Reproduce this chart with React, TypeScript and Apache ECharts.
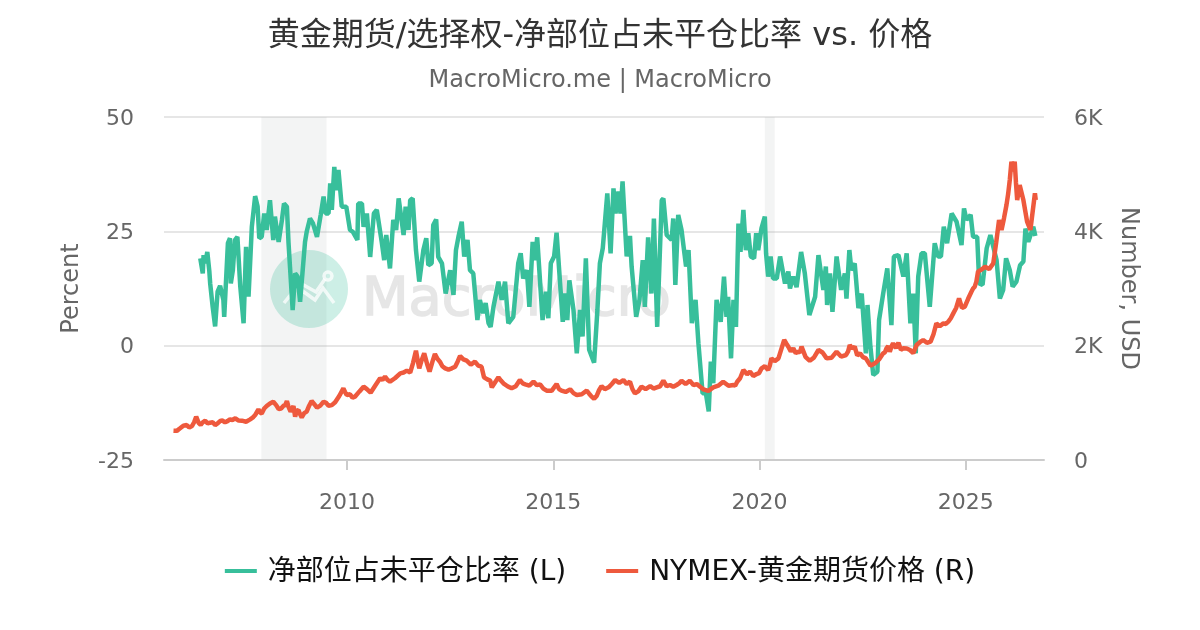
import React, { useEffect, useRef } from "react";
import * as echarts from "echarts";

const FONT = "'DejaVu Sans','Noto Sans CJK SC',sans-serif";
const TITLE = "黄金期货/选择权-净部位占未平仓比率 vs. 价格";
const SUBTITLE = "MacroMicro.me | MacroMicro";
const LEFT_NAME = "净部位占未平仓比率 (L)";
const RIGHT_NAME = "NYMEX-黄金期货价格 (R)";
const X_TICKS = [2010, 2015, 2020, 2025];
const RECESSIONS = [[2007.92, 2009.5], [2020.13, 2020.37]];

const netYears = [
  2006.44,2006.50,2006.52,2006.56,2006.61,2006.66,2006.68,2006.74,2006.80,2006.86,2006.92,2007.00,2007.02,2007.11,2007.16,2007.18,2007.23,2007.28,2007.34,2007.41,2007.49,2007.55,2007.61,2007.69,2007.77,2007.83,2007.87,2007.93,2007.99,2008.05,2008.13,2008.21,2008.25,2008.34,2008.42,2008.47,2008.54,2008.58,2008.63,2008.68,2008.74,2008.80,2008.86,2008.98,2009.02,2009.10,2009.17,2009.27,2009.36,2009.43,2009.48,2009.55,2009.59,2009.63,2009.69,2009.73,2009.79,2009.87,2009.98,
  2010.07,2010.14,2010.25,2010.27,2010.36,2010.40,2010.48,2010.56,2010.65,2010.72,2010.84,2010.90,2010.95,2011.04,2011.12,2011.19,2011.25,2011.30,2011.37,2011.42,2011.49,2011.53,2011.59,2011.67,2011.75,2011.85,2011.92,2011.97,2012.05,2012.09,2012.16,2012.21,2012.30,2012.39,2012.50,2012.58,2012.64,2012.70,2012.78,2012.84,2012.92,2012.98,
  2013.06,2013.16,2013.22,2013.30,2013.36,2013.43,2013.48,2013.55,2013.67,2013.75,2013.83,2013.91,2014.03,2014.15,2014.21,2014.27,2014.36,2014.42,2014.50,2014.56,2014.61,2014.74,2014.82,2014.88,2014.94,2015.02,2015.08,2015.23,2015.29,2015.34,2015.39,2015.49,2015.57,2015.65,2015.71,2015.79,2015.87,2015.99,
  2016.07,2016.13,2016.20,2016.25,2016.31,2016.39,2016.46,2016.51,2016.58,2016.63,2016.68,2016.78,2016.86,2016.90,2017.01,2017.09,2017.17,2017.22,2017.30,2017.38,2017.44,2017.52,2017.63,2017.67,2017.75,2017.87,2017.91,2017.96,2018.03,2018.11,2018.22,2018.28,2018.36,2018.45,2018.52,2018.62,2018.70,2018.77,2018.82,2018.88,2018.96,2019.06,2019.14,2019.20,2019.24,2019.31,2019.37,2019.43,2019.49,2019.54,2019.61,2019.67,2019.73,2019.79,2019.87,2019.92,2019.97,
  2020.05,2020.13,2020.16,2020.21,2020.27,2020.33,2020.42,2020.50,2020.62,2020.70,2020.74,2020.82,2020.90,2021.01,2021.10,2021.21,2021.35,2021.43,2021.55,2021.61,2021.64,2021.71,2021.77,2021.87,2021.98,2022.07,2022.11,2022.18,2022.23,2022.31,2022.40,2022.48,2022.58,2022.62,2022.69,2022.76,2022.86,2022.90,
  2023.00,2023.10,2023.20,2023.26,2023.37,2023.49,2023.57,2023.66,2023.73,2023.79,2023.85,2023.93,2024.01,2024.13,2024.25,2024.33,2024.40,2024.47,2024.55,2024.66,2024.78,2024.90,2024.96,2025.02,2025.12,2025.18,2025.28,2025.33,2025.41,2025.51,2025.60,2025.75,2025.83,2025.91,2025.98,2026.07,2026.14,2026.23,2026.32,2026.40,2026.45,2026.52,2026.64,2026.69,
];
const netValues = [
  19.1,15.8,19.8,18.0,20.5,16.2,13.6,8.5,4.2,11.8,13.1,10.0,6.3,22.4,23.5,13.6,16.5,23.1,23.8,12.9,4.9,21.6,10.7,26.0,32.7,30.4,23.5,23.8,28.9,25.3,31.8,23.1,28.2,22.7,27.5,31.1,30.4,22.4,15.1,7.8,15.8,15.1,9.6,22.7,24.9,27.8,26.8,23.8,28.6,32.6,28.9,28.9,35.5,29.7,39.1,34.0,38.4,30.4,30.4,
  25.3,24.9,23.1,31.1,31.1,26.0,28.9,19.4,28.9,29.7,22.7,18.7,24.2,16.9,27.5,25.3,32.2,28.9,24.2,30.4,25.3,31.8,32.2,20.9,14.0,20.9,23.5,17.6,18.0,26.4,27.6,19.4,18.0,11.4,16.5,11.1,20.9,23.8,27.1,19.5,23.1,16.5,
  15.8,5.6,10.0,7.1,9.3,4.9,4.1,8.5,14.0,10.0,14.0,4.9,6.3,18.0,20.2,14.7,16.5,8.5,22.7,18.7,23.7,5.6,11.8,6.0,18.0,19.5,24.7,5.2,11.4,5.6,14.3,7.8,-1.7,7.8,2.0,19.1,-0.9,-3.7,
  7.8,18.0,21.3,26.7,33.3,20.2,34.4,28.9,33.7,28.9,35.9,19.5,24.0,17.3,6.3,10.0,18.7,8.5,23.7,11.4,27.8,4.1,31.8,32.2,24.2,23.1,27.8,13.3,28.6,25.3,17.3,20.9,4.9,10.0,0.5,-10.4,-10.4,-14.4,-3.5,-8.2,10.0,5.2,15.1,6.3,10.7,-2.8,10.0,4.1,26.7,20.5,29.7,20.9,24.6,19.5,19.1,24.6,20.9,
  25.7,28.2,20.2,15.1,19.5,14.7,14.7,19.5,13.6,16.2,12.5,15.1,12.8,20.5,15.8,6.7,10.7,19.8,12.2,17.3,8.9,15.8,7.4,19.5,12.2,15.8,10.3,20.9,16.5,18.0,8.2,11.4,-1.7,8.9,-0.2,-6.4,-5.7,5.6,
  11.4,16.9,4.5,19.5,19.8,15.1,20.2,4.9,11.4,-1.7,15.1,20.2,20.2,8.5,22.4,19.5,19.5,26.0,22.4,28.9,27.1,22.0,30.0,27.5,28.6,23.8,23.8,13.6,13.3,21.3,24.2,18.7,10.3,12.2,19.1,16.5,12.9,14.0,17.6,18.4,25.6,22.7,26.0,24.0,
];

const goldYears = [
  2005.79,2005.95,2006.11,2006.24,2006.34,2006.45,2006.56,2006.68,2006.80,2006.92,2007.04,2007.16,2007.29,2007.45,2007.65,2007.77,2007.85,2007.93,2008.05,2008.21,2008.34,2008.46,2008.54,2008.63,2008.70,2008.74,2008.82,2008.90,2009.02,2009.14,2009.27,2009.43,2009.55,2009.71,2009.91,2009.99,
  2010.19,2010.40,2010.57,2010.80,2010.92,2011.04,2011.29,2011.45,2011.53,2011.67,2011.75,2011.87,2012.00,2012.13,2012.25,2012.38,2012.54,2012.62,2012.74,2012.90,2013.10,2013.26,2013.32,2013.47,2013.51,2013.67,2013.79,2013.99,
  2014.19,2014.32,2014.52,2014.68,2014.84,2015.08,2015.20,2015.41,2015.57,2015.81,2015.93,2016.05,2016.17,2016.34,2016.50,2016.70,2016.86,2016.98,2017.14,2017.35,2017.51,2017.67,2017.83,2017.99,
  2018.11,2018.31,2018.48,2018.64,2018.88,2019.12,2019.37,2019.46,2019.61,2019.77,2019.93,2020.05,2020.21,2020.29,2020.46,2020.60,2020.70,2020.82,2020.94,2021.02,2021.22,2021.43,2021.63,2021.87,
  2022.10,2022.19,2022.31,2022.44,2022.58,2022.80,2023.00,2023.08,2023.16,2023.24,2023.37,2023.49,2023.65,2023.81,2023.97,2024.15,2024.29,2024.46,2024.58,2024.70,2024.84,2024.98,
  2025.14,2025.22,2025.30,2025.47,2025.67,2025.81,2025.87,2025.99,2026.07,2026.11,2026.19,2026.25,2026.31,2026.40,2026.49,2026.57,2026.68,2026.70,
];
const goldValues = [
  513,554,612,595,758,612,688,653,612,682,659,711,729,688,711,787,886,816,945,1020,892,950,1032,846,945,758,875,746,846,1032,915,1020,950,1009,1254,1137,
  1108,1283,1178,1429,1458,1370,1516,1563,1528,1912,1603,1866,1545,1854,1720,1603,1603,1632,1819,1737,1720,1632,1446,1388,1271,1446,1341,1254,
  1399,1323,1370,1323,1213,1329,1213,1236,1137,1213,1108,1119,1294,1271,1399,1399,1370,1166,1283,1294,1271,1388,1312,1312,
  1388,1388,1329,1236,1271,1370,1312,1370,1574,1545,1504,1603,1574,1778,1778,2099,1982,1953,1895,1982,1737,1924,1778,1895,
  1837,2011,1982,1866,1778,1691,1866,1953,1895,2041,2052,1953,1924,2011,2099,2070,2390,2390,2420,2565,2828,2682,
  2944,3032,3294,3382,3440,4198,4023,4460,4897,5218,5218,4547,4810,4547,4169,4023,4664,4547,
];

// further readings of the gold line, taken between the ones above
const goldMoreYears = [
  2005.87,2006.03,2006.17,2006.29,2006.40,2006.50,2006.62,2006.74,2006.86,2006.98,2007.10,2007.22,2007.37,2007.55,2007.71,2007.89,2007.99,2008.13,2008.28,2008.40,2008.50,2008.58,2008.66,2008.78,2008.86,2008.96,2009.08,2009.20,2009.35,2009.49,2009.63,2009.81,2009.95,
  2010.07,2010.13,2010.30,2010.48,2010.68,2010.86,2010.98,2011.16,2011.37,2011.60,2011.71,2011.81,2011.94,2012.07,2012.19,2012.31,2012.46,2012.68,2012.82,2013.00,2013.18,2013.40,2013.59,2013.73,2013.89,
  2014.09,2014.26,2014.42,2014.60,2014.76,2014.96,2015.14,2015.30,2015.49,2015.69,2015.87,2015.99,2016.11,2016.25,2016.42,2016.60,2016.78,2016.92,2017.06,2017.24,2017.43,2017.59,2017.75,2017.91,
  2018.05,2018.21,2018.40,2018.56,2018.76,2019.00,2019.25,2019.41,2019.53,2019.70,2019.85,2019.99,2020.13,2020.25,2020.37,2020.53,2020.65,2020.76,2020.88,2020.98,2021.12,2021.32,2021.53,2021.75,2021.98,
  2022.15,2022.25,2022.37,2022.51,2022.69,2022.90,2023.04,2023.12,2023.20,2023.31,2023.43,2023.57,2023.73,2023.89,2024.06,2024.22,2024.37,2024.52,2024.64,2024.77,2024.91,
  2025.06,2025.18,2025.26,2025.38,2025.57,2025.74,2025.93,2026.03,2026.15,2026.22,
];
const goldMoreValues = [
  510,600,570,660,650,660,640,660,640,690,680,700,690,670,740,830,900,990,960,900,960,930,890,860,800,820,950,980,950,1000,960,1120,1190,
  1150,1090,1200,1240,1300,1400,1400,1430,1530,1700,1750,1750,1680,1720,1770,1640,1580,1720,1760,1670,1650,1410,1360,1390,1290,
  1290,1340,1300,1310,1250,1210,1240,1190,1170,1150,1160,1070,1220,1240,1330,1350,1330,1240,1200,1240,1250,1290,1290,1280,
  1340,1330,1310,1280,1210,1300,1300,1300,1430,1500,1470,1520,1640,1650,1730,1940,2040,1900,1870,1880,1800,1790,1880,1790,1810,
  1900,1950,1830,1800,1650,1760,1880,1990,1980,1960,1930,1950,1870,2060,2050,2200,2340,2380,2480,2660,2660,
  2820,3000,3120,3330,3340,3800,4230,4650,5050,4850,
];

const zip = (xs: number[], ys: number[]) => xs.map((x, i) => [x, ys[i]]);

export default function App() {
  const ref = useRef<HTMLDivElement>(null);
  useEffect(() => {
    const chart = echarts.init(ref.current!, undefined, { renderer: "svg" });
    const logoStroke = { stroke: "rgba(255,255,255,0.75)", lineWidth: 3.5, fill: "none" };
    const goldData = [...zip(goldYears, goldValues), ...zip(goldMoreYears, goldMoreValues)].sort((a, b) => a[0] - b[0]);
    chart.setOption({
      animation: false,
      textStyle: { fontFamily: FONT },
      title: {
        text: TITLE,
        subtext: SUBTITLE,
        left: "center",
        top: 13,
        itemGap: 17,
        textStyle: { fontFamily: FONT, fontSize: 32, fontWeight: "normal", color: "#333333" },
        subtextStyle: { fontFamily: FONT, fontSize: 24, color: "#666666" },
      },
      legend: {
        bottom: 40,
        left: "center",
        itemWidth: 32,
        itemHeight: 4,
        itemGap: 40,
        icon: "rect",
        textStyle: { fontFamily: FONT, fontSize: 28, color: "#111111", padding: [0, 0, 0, 6] },
        data: [LEFT_NAME, RIGHT_NAME],
      },
      grid: { left: 164, right: 156, top: 117, bottom: 170 },
      xAxis: {
        type: "value",
        min: 2005.56,
        max: 2026.9,
        splitLine: { show: false },
        axisLine: { show: true, onZero: false, lineStyle: { color: "#cccccc", width: 2 } },
        axisTick: { show: true, length: 10, customValues: X_TICKS, lineStyle: { color: "#cccccc", width: 2 } },
        axisLabel: { customValues: X_TICKS, formatter: (v: number) => String(v), fontSize: 22, color: "#666666", margin: 30, fontFamily: FONT },
      },
      yAxis: [
        {
          type: "value",
          min: -25,
          max: 50,
          interval: 25,
          name: "Percent",
          nameLocation: "middle",
          nameGap: 82,
          nameTextStyle: { fontSize: 24, color: "#666666", fontFamily: FONT },
          axisLine: { show: false },
          axisTick: { show: false },
          splitLine: { lineStyle: { color: "#e6e6e6", width: 2 } },
          axisLabel: { fontSize: 22, color: "#666666", margin: 30, fontFamily: FONT },
        },
        {
          type: "value",
          min: 0,
          max: 6000,
          interval: 2000,
          position: "right",
          name: "Number, USD",
          nameLocation: "middle",
          nameGap: 74,
          nameRotate: -90,
          nameTextStyle: { fontSize: 24, color: "#666666", fontFamily: FONT },
          axisLine: { show: false },
          axisTick: { show: false },
          splitLine: { show: false },
          axisLabel: {
            fontSize: 22,
            color: "#666666",
            margin: 30,
            fontFamily: FONT,
            formatter: (v: number) => (v === 0 ? "0" : `${v / 1000}K`),
          },
        },
      ],
      graphic: [
        { type: "circle", z: 2, shape: { cx: 309, cy: 289, r: 39 }, style: { fill: "rgba(56,191,155,0.25)" } },
        { type: "polyline", z: 2, shape: { points: [[284, 303], [297, 287], [315, 300], [323, 288], [334, 303]] }, style: logoStroke },
        { type: "polyline", z: 2, shape: { points: [[300, 283], [316, 292], [325, 279]] }, style: logoStroke },
        { type: "circle", z: 2, shape: { cx: 328, cy: 276, r: 4 }, style: logoStroke },
        {
          type: "text",
          z: 2,
          x: 362,
          y: 269,
          style: {
            text: "MacroMicro",
            fontFamily: "'DejaVu Sans',sans-serif",
            fontSize: 54,
            fill: "#e6e6e6",
            stroke: "#e6e6e6",
            lineWidth: 1.5,
          },
        },
      ],
      series: [
        {
          name: LEFT_NAME,
          type: "line",
          yAxisIndex: 0,
          data: zip(netYears, netValues),
          showSymbol: false,
          symbol: "none",
          z: 3,
          itemStyle: { color: "#38bf9b" },
          lineStyle: { color: "#38bf9b", width: 4.5 },
          markArea: {
            z: 0,
            silent: true,
            itemStyle: { color: "rgba(170,180,180,0.14)" },
            data: RECESSIONS.map(([a, b]) => [{ xAxis: a }, { xAxis: b }]),
          },
        },
        {
          name: RIGHT_NAME,
          type: "line",
          yAxisIndex: 1,
          data: goldData,
          showSymbol: false,
          symbol: "none",
          z: 4,
          itemStyle: { color: "#ee593d" },
          lineStyle: { color: "#ee593d", width: 4.5 },
        },
      ],
    });
    return () => chart.dispose();
  }, []);
  return <div ref={ref} style={{ position: "fixed", left: 0, top: 0, width: 1200, height: 630 }} />;
}
